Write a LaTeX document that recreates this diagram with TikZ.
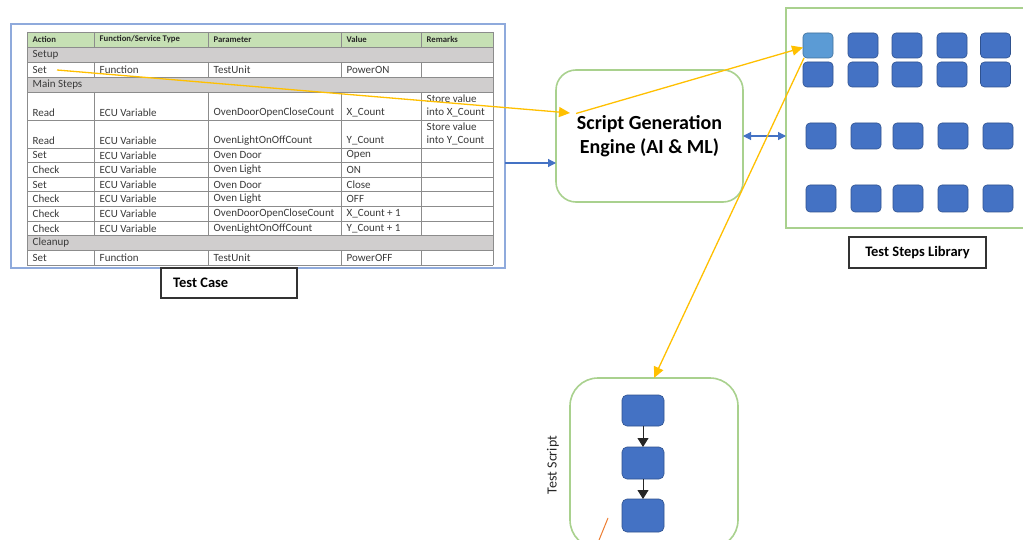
\documentclass[tikz,border=0pt]{standalone}
\usepackage{fontspec}
\setmainfont{Carlito}
\usetikzlibrary{arrows.meta,calc}

\definecolor{hdrgreen}{HTML}{C6E0B4}
\definecolor{secgrey}{HTML}{D0CECE}
\definecolor{gridgrey}{HTML}{8C8C8C}
\definecolor{framblue}{HTML}{8FAADC}
\definecolor{linkblue}{HTML}{4472C4}
\definecolor{boxgreen}{HTML}{A9D18E}
\definecolor{stepblue}{HTML}{4472C4}
\definecolor{stepedge}{HTML}{2F528F}
\definecolor{selblue}{HTML}{5B9BD5}
\definecolor{seledge}{HTML}{41719C}
\definecolor{flowyellow}{HTML}{FFC000}
\definecolor{flowred}{HTML}{ED7D31}
\definecolor{celltext}{HTML}{3A3A3A}

\newcommand\cellrow[7]{%
  \node[cell] (#1-1) at (32.5,#2) {#3};
  \node[cell] (#1-2) at (99.5,#2) {#4};
  \node[cell] (#1-3) at (213.5,#2) {#5};
  \node[cell] (#1-4) at (346.5,#2) {#6};
  \node[cell] (#1-5) at (426.5,#2) {#7};}

\begin{document}
\begin{tikzpicture}[x=1pt,y=-1pt,
  cell/.style={anchor=west, inner sep=0pt, align=left, text=celltext,
    font=\fontsize{11}{13}\selectfont},
  hdrcell/.style={anchor=west, inner sep=0pt, text=black!85,
    font=\bfseries\fontsize{8.7}{10}\selectfont},
  gridline/.style={draw=gridgrey, line width=0.8pt},
  tcframe/.style={draw=framblue, line width=1.4pt, inner sep=0pt, outer sep=0pt},
  greenbox/.style={draw=boxgreen, line width=1.6pt, fill=white, inner sep=0pt, outer sep=0pt},
  labelbox/.style={draw=black!80, line width=1.3pt, fill=white, inner ysep=0pt,
    font=\bfseries\fontsize{14.5}{16}\selectfont},
  stepsq/.style={draw=stepedge, line width=0.6pt, fill=stepblue, rounded corners=4pt,
    minimum width=30pt, inner sep=0pt, outer sep=0pt},
  selsq/.style={stepsq, draw=seledge, fill=selblue},
  scriptsq/.style={draw=stepedge, line width=0.6pt, fill=stepblue, rounded corners=5pt,
    minimum width=42pt, inner sep=0pt, outer sep=0pt},
  bluelink/.style={draw=linkblue, line width=1.1pt, -{Triangle[length=8pt,width=8pt]}},
  yellowlink/.style={draw=flowyellow, line width=1.3pt},
  yellowarrow/.style={yellowlink, -{Triangle[length=11pt,width=10pt]}},
  chainarrow/.style={draw=black!85, line width=1pt, -{Triangle[length=9pt,width=11pt]}}
]
\useasboundingbox (0,0) rectangle (1023,540);
\clip (0,0) rectangle (1023,540);
\fill[white] (0,0) rectangle (1023,540);

% ---------------- test case table ----------------
\node[tcframe, minimum width=494pt, minimum height=244pt] (tcframe) at (258,146) {};

% row fills
\fill[hdrgreen] (27,32) rectangle (493,47);
\fill[secgrey] (27,47) rectangle (493,62);
\fill[secgrey] (27,77) rectangle (493,92);
\fill[secgrey] (27,235.6) rectangle (493,250.2);

% horizontal rules
\foreach \ry in {32,47,62,77,92,120,148,162.6,177.2,191.8,206.4,221,235.6,250.2,265}
  \draw[gridline] (27,\ry) -- (493,\ry);
% outer verticals
\draw[gridline] (27,32) -- (27,265);
\draw[gridline] (493,32) -- (493,265);
% interior verticals (not across the section rows)
\foreach \cx in {94,208,341,421} {
  \draw[gridline] (\cx,32) -- (\cx,47);
  \draw[gridline] (\cx,62) -- (\cx,77);
  \draw[gridline] (\cx,92) -- (\cx,235.6);
  \draw[gridline] (\cx,250.2) -- (\cx,265);
}

% header
\node[hdrcell] (h-1) at (32.5,39.5) {Action};
\node[hdrcell] (h-2) at (99.5,39.5) {Function/Service Type};
\node[hdrcell] (h-3) at (213.5,39.5) {Parameter};
\node[hdrcell] (h-4) at (346.5,39.5) {Value};
\node[hdrcell] (h-5) at (426.5,39.5) {Remarks};

% section rows
\node[cell] (sec-setup) at (32.5,54.5) {Setup};
\node[cell] (sec-main) at (32.5,84.5) {Main Steps};
\node[cell] (sec-clean) at (32.5,243) {Cleanup};

% data rows
\cellrow{ra}{69.5}{Set}{Function}{TestUnit}{PowerON}{}
\cellrow{rb}{112.5}{Read}{ECU Variable}{OvenDoorOpenCloseCount}{X\_Count}{}
\node[cell] (rb-r) at (426.5,106) {Store value\\into X\_Count};
\cellrow{rc}{140.5}{Read}{ECU Variable}{OvenLightOnOffCount}{Y\_Count}{}
\node[cell] (rc-r) at (426.5,134) {Store value\\into Y\_Count};
\cellrow{rd}{155.3}{Set}{ECU Variable}{Oven Door}{Open}{}
\cellrow{re}{169.9}{Check}{ECU Variable}{Oven Light}{ON}{}
\cellrow{rf}{184.5}{Set}{ECU Variable}{Oven Door}{Close}{}
\cellrow{rg}{199.1}{Check}{ECU Variable}{Oven Light}{OFF}{}
\cellrow{rh}{213.7}{Check}{ECU Variable}{OvenDoorOpenCloseCount}{X\_Count + 1}{}
\cellrow{ri}{228.3}{Check}{ECU Variable}{OvenLightOnOffCount}{Y\_Count + 1}{}
\cellrow{rj}{257.6}{Set}{Function}{TestUnit}{PowerOFF}{}

\node[labelbox, minimum width=136pt, minimum height=30pt] (tclabel) at (229,283) {};
\node[anchor=west, inner sep=0pt, font=\bfseries\fontsize{14.5}{16}\selectfont]
  (tctext) at (173,283) {Test Case};

% ---------------- script generation engine ----------------
\node[greenbox, rounded corners=20pt, minimum width=187pt, minimum height=132pt,
  align=center, font=\bfseries\fontsize{20}{24}\selectfont]
  (engine) at (649.5,136) {Script Generation\\Engine (AI \& ML)};

% ---------------- test steps library ----------------
\node[greenbox, minimum width=250pt, minimum height=220pt] (lib) at (911,118) {};
\node[labelbox, minimum width=137pt, minimum height=31pt] (liblabel) at (917.5,252.5) {Test Steps Library};

\node[selsq, minimum height=25pt] (s11) at (818,45.5) {};
\foreach \cx [count=\i from 2] in {863,907,952,995.5}
  \node[stepsq, minimum height=25pt] (s1\i) at (\cx,45.5) {};
\foreach \cx [count=\i] in {818,863,907,952,995.5}
  \node[stepsq, minimum height=25pt] (s2\i) at (\cx,74.5) {};
\foreach \cx [count=\i] in {821,866,908,953,998} {
  \node[stepsq, minimum height=26pt] (s3\i) at (\cx,136) {};
  \node[stepsq, minimum height=27pt] (s4\i) at (\cx,198.5) {};
}

% ---------------- test script ----------------
\node[greenbox, rounded corners=28pt, minimum width=168pt, minimum height=170pt] (tscript) at (654,463) {};
\node[rotate=90, font=\fontsize{14}{16}\selectfont, text=black!85] (tslabel) at (553,465) {Test Script};
\node[scriptsq, minimum height=31pt] (t1) at (643,410.5) {};
\node[scriptsq, minimum height=32pt] (t2) at (643,463) {};
\node[scriptsq, minimum height=33pt] (t3) at (643,515.5) {};
\draw[chainarrow] (t1) -- (t2);
\draw[chainarrow] (t2) -- (t3);

% ---------------- connectors ----------------
\draw[bluelink] ($(tcframe.east)+(0,17)$) -- ($(engine.west)+(0,27)$);
\draw[draw=linkblue, line width=1.1pt, {Triangle[length=8pt,width=8pt]}-{Triangle[length=8pt,width=8pt]}]
  (engine.east) -- (engine.east -| lib.west);

\coordinate (setpt) at (57,70);
\coordinate (enginein) at (570,113);
\coordinate (engineout) at (576,113.5);
\draw[yellowarrow] (setpt) -- (enginein);
\draw[yellowarrow] (engineout) -- ($(s11.west)+(0,2)$);
\draw[yellowarrow] ($(s11.south west)+(1,0)$) -- (tscript.north);

\coordinate (redtop) at (608,518);
\coordinate (redbot) at (597,545);
\draw[draw=flowred, line width=1pt] (redtop) -- (redbot);
\end{tikzpicture}
\end{document}
